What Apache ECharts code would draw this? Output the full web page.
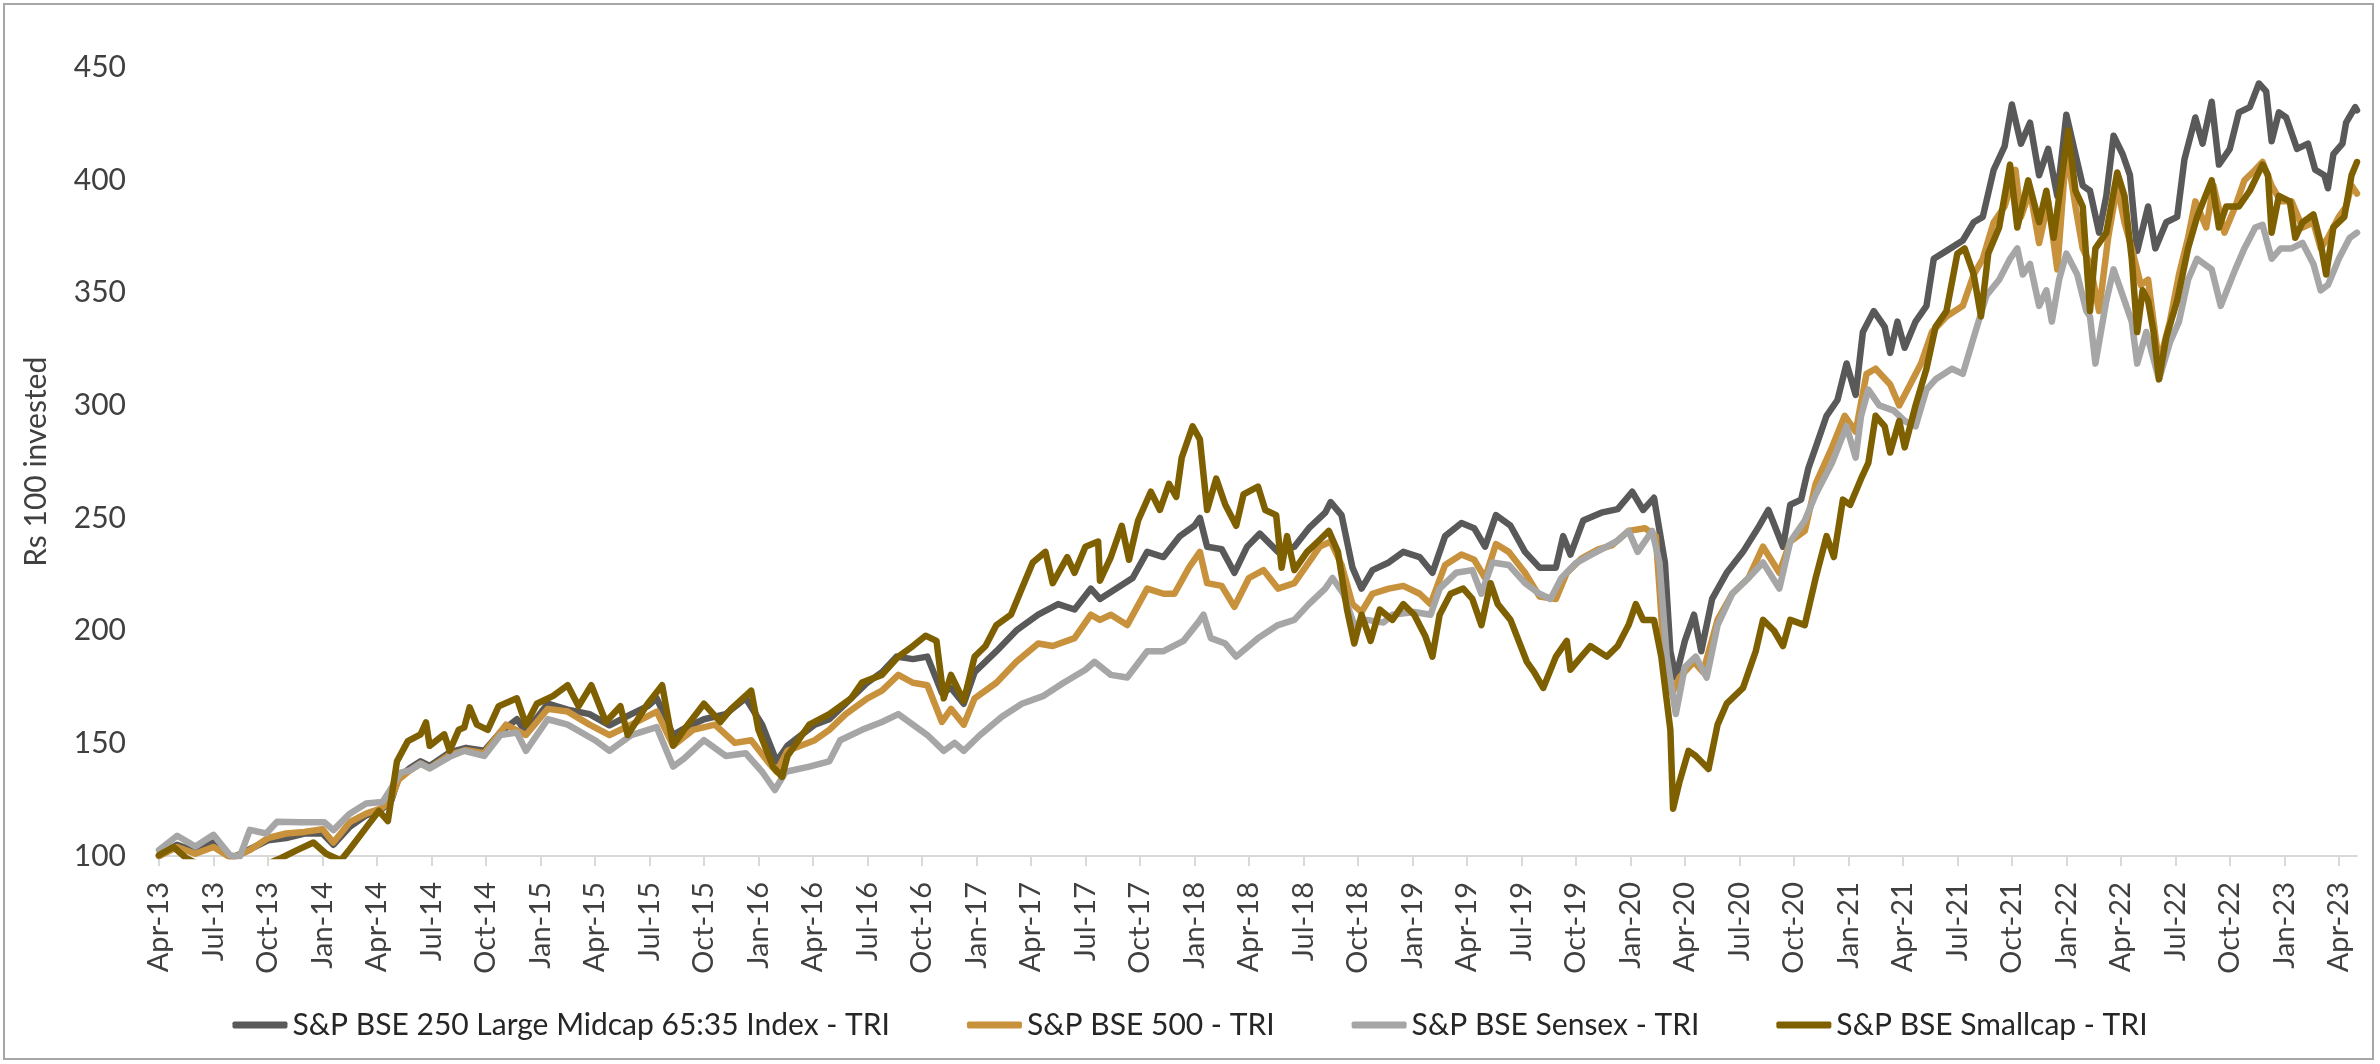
<!DOCTYPE html>
<html>
<head>
<meta charset="utf-8">
<script src="https://cdn.jsdelivr.net/npm/echarts@6/dist/echarts.min.js"></script>
<style>
html,body{margin:0;padding:0;background:#fff;}
#chart{width:2380px;height:1064px;}
</style>
</head>
<body>
<div id="chart"></div>
<script>
// x values are months since 1-Apr-2013
const quarterLabels = ['Apr-13','Jul-13','Oct-13','Jan-14','Apr-14','Jul-14','Oct-14','Jan-15','Apr-15','Jul-15','Oct-15','Jan-16','Apr-16','Jul-16','Oct-16','Jan-17','Apr-17','Jul-17','Oct-17','Jan-18','Apr-18','Jul-18','Oct-18','Jan-19','Apr-19','Jul-19','Oct-19','Jan-20','Apr-20','Jul-20','Oct-20','Jan-21','Apr-21','Jul-21','Oct-21','Jan-22','Apr-22','Jul-22','Oct-22','Jan-23','Apr-23'];
const yTicks = [100,150,200,250,300,350,400,450];
const seriesNames = ['S&P BSE 250 Large Midcap 65:35 Index - TRI','S&P BSE 500 - TRI','S&P BSE Sensex - TRI','S&P BSE Smallcap - TRI'];

const lmMonths = [0,1,2,3,4,5,6,7,8,9,9.6,10.5,11.4,12.3,12.8,13.2,13.8,14.4,14.9,16,16.9,17.9,18.8,19.7,20.2,21.4,22.5,23.7,24.8,26,26.9,27.4,28.3,29,30,31.2,32.3,33.2,34,34.6,36.1,36.9,37.8,39,39.8,40.6,41.5,42.3,43.1,43.6,44.3,44.9,46.1,47.2,48.4,49.5,50.4,51.3,51.8,52.7,53.6,54.4,55.3,56.2,57,57.3,57.7,58.5,59.2,59.9,60.6,61.6,62.5,63.3,64.2,64.5,65.1,65.7,66.2,66.8,67.7,68.5,69.4,70.1,70.8,71.7,72.4,73,73.6,74.4,75.2,76,76.9,77.3,77.7,78.4,79.4,80.3,81.1,81.7,82.3,82.9,83.2,83.5,84,84.5,84.9,85.5,86.3,87.2,88.1,88.6,89.4,89.8,90.4,90.8,91.2,91.8,92.4,92.9,93.4,93.8,94.4,95,95.3,95.7,96.1,96.7,97.3,97.7,98.4,99.3,99.9,100.4,101,101.6,102,102.5,103,103.5,104,104.5,105,105.5,105.9,106.3,106.8,107.2,107.6,108.1,108.5,108.9,109.5,109.9,110.5,111.1,111.5,112.1,112.5,113,113.4,114,114.5,115.1,115.6,116,116.3,116.7,117.1,117.7,118.3,118.7,119.2,119.4,119.7,120.2,120.4,120.9,121];
const lmValues = [100,105,102,106,99,103,107,108,110,110,105,113,118,121,125,135,139,142,140,146,148,146.7,155,160.7,155,167.6,165,163,158,163,166.5,170,153.7,157,160.7,163,170,158.3,142,149,158.3,160.7,167.6,177,181.6,188.5,187.4,188.5,172.3,174.6,167.6,181.6,190.9,200.1,207.1,211.8,209.4,218.7,214.1,218.7,223.4,235,232.7,242,246.6,250.1,237.3,236.2,225.7,237.3,243.1,235,237.3,245.5,252.4,257.1,251.3,228,218.7,226.9,230.3,235,232.7,225.7,242,247.8,245.5,237.3,251.3,246.6,235,228,228,242,233.8,248.9,252.4,254,261.7,253.6,259,230.3,190.9,179.2,195.5,207.1,190.9,214.1,225.7,235,246.6,253.6,237.3,255.9,258.2,272.2,281.4,295.4,302.4,318.6,304.7,332.6,341.9,334.9,323.3,337.2,325.6,337.2,344.2,365.1,368.6,373.2,381.3,383.7,404.6,415,433.6,416.2,425.5,402.2,413.9,393,429,411.5,397.6,395.3,376.7,393,419.7,411.5,402.2,368.6,388.3,369.7,381.3,383.7,409.2,427.8,416.2,434.8,406.9,413.9,430.1,432.4,442.9,439.4,417.3,430.1,427.8,413.9,416.2,404.6,402.2,396.4,411.5,416.2,425.5,432.4,431];

const b5Months = [0,1,2,3,4,5,6,7,8,9,9.6,10.5,11.4,12.2,12.7,13.2,13.8,14.4,14.9,16,16.9,17.9,19.1,20.2,21.4,22.5,23.7,24.8,26,27.4,28.3,29.4,30.6,31.7,32.6,33.5,34,34.6,36.1,36.9,37.8,39,39.8,40.7,41.5,42.3,43.1,43.6,44.3,44.9,46.1,47.2,48.4,49.2,50.4,51.3,51.8,52.4,53.3,54.4,55.3,55.9,56.7,57.3,57.7,58.5,59.2,60,60.8,61.6,62.5,63.3,63.9,64.5,65.1,65.7,66.2,66.8,67.7,68.5,69.4,70,70.8,71.7,72.4,73,73.6,74.3,75.2,76,76.9,77.5,78.3,79.2,80,80.9,81.8,82.4,82.8,83.3,83.7,84.5,85,85.8,86.6,87.5,88.3,89.2,89.8,90.6,91.2,92.1,92.8,93.4,94,94.5,95.3,95.8,96.4,97,97.6,98.4,99.3,99.9,100.4,101,101.6,102.2,102.5,103,103.5,104,104.5,105,105.5,105.9,106.3,106.8,107.3,107.8,108.2,108.6,109.1,109.5,110.1,110.7,111.2,111.7,112.1,112.7,113.1,113.7,114.3,114.8,115.4,115.8,116.3,116.8,117.4,118,118.6,119,119.4,120,120.4,120.7,121];
const b5Values = [100,104,101,104,99,102.6,108,110,110.7,111.9,106,115,118.8,121,124,134,138,141,139,145,147,145.6,158.3,153.7,165.3,164.1,158.3,153.7,158.3,164.1,149,156,158.3,150.2,151.4,142,137.4,146.7,151.4,156,163,170,173.4,180.4,176.9,175.8,159.5,165.3,158.3,170,176.9,186.2,194.3,193.2,196.7,207.1,204.8,207.1,202.5,218.7,216.4,216.4,228,235,221.1,219.9,210.6,223.4,226.9,218.7,221.1,230.3,237.3,239.6,229.2,211.8,208.3,216.4,218.7,219.9,216.4,211.8,229.2,233.8,231.5,223.4,238.5,235,225.7,215.2,214.1,225.7,232,236,238,244.3,245.5,242,195.5,172.3,179.2,186.2,181.6,204.8,216.4,223.4,237.3,225.7,239.6,244.3,265.2,281.4,295.4,288.4,314,316.3,309.3,300,309.3,318.6,332.6,339.5,344.2,358.1,365.1,381.3,388.3,404.6,383.7,395.3,372.1,390.6,360.4,413.9,388.3,369.7,362.8,341.9,374.4,397.6,381.3,369.7,353.5,355.8,318.6,337.2,358.1,374.4,390.6,379,397.6,376.7,388.3,399.9,404.6,408.1,397.6,390.6,390.6,379,381.3,369.7,374.4,383.7,388.3,397.6,394];

const sxMonths = [0,1,2,3,3.9,4.45,5,5.9,6.5,7.8,9.1,9.6,10.5,11.4,12.3,12.7,13.3,13.8,14.4,14.9,16,16.8,17.9,18.8,19.7,20.2,21.4,22.5,24,24.8,26,27.4,28.3,28.9,30,31.2,32.3,33.2,33.9,34.5,35.8,36.9,37.5,38.7,39.8,40.7,41.5,42.3,43.2,43.8,44.3,45.2,46.4,47.5,48.7,49.8,51,51.5,52.4,53.3,54.4,55.3,56.4,57.2,57.5,57.9,58.7,59.3,60.5,61.6,62.5,63.3,64.2,64.6,65.2,65.8,66.5,67.4,67.9,69.1,70,70.5,71.4,72.3,72.8,73.4,74.3,75.2,76,76.6,77.2,78,78.9,79.7,80.3,80.9,81.4,82.2,82.6,83,83.5,84,84.6,85.2,85.8,86.6,87.5,88.3,89.2,89.8,90.6,91.2,92.1,92.9,93.4,93.7,94.1,94.7,95.5,96.1,96.7,97.3,97.8,98.7,99.3,99.9,100.6,101.3,101.9,102.3,102.6,103,103.5,103.9,104.2,104.6,105,105.6,106.1,106.3,106.6,107.2,107.6,108.2,108.6,108.9,109.4,110.1,110.7,111.2,111.7,112.2,113,113.5,114.3,114.8,115.4,115.8,116.3,116.8,117.4,118,118.6,119,119.4,120,120.6,121];
const sxValues = [102.6,109,104.2,109.4,100.4,99.7,111.6,110,115.2,115,115,111.5,118.8,123.3,124,129,137,138,141,138.9,144,146.7,144.4,153.7,154.8,146.7,160.7,158.3,151.4,146.7,153.7,157.2,139.7,143.2,151.4,144.4,145.6,137.4,129.3,137.4,139.7,142,151.4,156,159.5,163,158.3,153.7,146.7,150.2,146.7,153.7,161.8,167.6,171.1,176.9,182.7,186.2,180.4,179.2,190.9,190.9,195.5,203.6,207.1,196.7,194.3,188.5,196.7,202.5,204.8,211.8,218.7,223.4,216.4,202.5,204.8,203.6,207.1,208.3,207.1,218.7,225.7,226.9,216.4,230.3,229.2,221.1,216.4,214.1,223.4,230,234,237.3,240,244.3,235,244.3,230.3,188.5,163,183.9,188.5,179.2,202.5,216.4,223.4,230.3,218.7,239.6,248.9,260.5,274.5,290.7,276.8,295.4,307,300,297.7,293.1,290.7,307,311.6,316.3,314,330.2,348.8,355.8,365.1,369.7,358.1,362.8,344.2,351.1,337.2,355.8,367.4,358.1,341.9,339.5,318.6,346.5,360.4,346.5,337.2,318.6,332.6,311.6,327.9,337.2,355.8,365.1,360.4,344.2,360.4,369.7,379,380.2,365.1,369.7,369.7,372.1,362.8,351.1,353.5,365.1,374.4,376.7];

const scMonths = [0,0.8,1.5,2.5,4,5.5,6.7,7.6,8.5,9.2,10,10.5,11.4,12.1,12.6,13.1,13.7,14.4,14.7,14.9,15.7,16,16.5,16.8,17.1,17.5,18.1,18.7,19.7,20.2,20.8,21.7,22.5,23.1,23.8,24.6,25.4,25.8,26.9,27.7,28.3,28.9,30,30.9,31.5,32.6,33,33.8,34.3,34.6,35.8,36.9,38.1,38.7,39.8,40.7,41.5,42.2,42.8,43.2,43.6,44.3,44.9,45.5,46.1,46.9,47.5,48.1,48.8,49.2,50,50.4,51,51.7,51.8,52.4,53,53.4,53.9,54.6,55.1,55.6,56,56.3,56.9,57.3,57.7,58.2,58.7,59.3,59.7,60.5,60.9,61.5,61.8,62.1,62.5,63.2,63.8,64.4,64.9,65.4,65.8,66.2,66.7,67.2,67.9,68.5,69.1,69.7,70.1,70.5,71.1,71.8,72.3,72.8,73.3,73.7,74.4,75.3,75.7,76.2,76.9,77.5,77.7,78.3,78.8,79.7,80.3,80.9,81.3,81.7,82.3,82.7,83.2,83.35,83.7,84.2,84.6,85.3,85.8,86.3,87.2,87.9,88.3,88.9,89.4,89.8,90.6,91.2,91.8,92.2,92.7,93.1,93.7,94.1,94.5,95,95.3,95.8,96.1,96.7,97.3,97.8,98.4,99,99.4,99.9,100.3,100.7,101.3,101.9,102.3,102.9,103.5,103.9,104.3,104.8,105.1,105.5,105.9,106.3,106.6,107.2,107.8,108.2,108.6,108.9,109.2,109.5,109.8,110.1,110.5,111.1,111.7,112.2,113,113.4,113.8,114.5,115.1,115.8,116.1,116.3,116.7,117.3,117.6,118,118.6,119,119.3,119.7,120.3,120.7,121];
const scValues = [100.4,104,99,95,93,95,99,102.6,106,101,98,103,112.6,120,115.5,142,151,154,159.3,148.9,154,146.7,156,157,166,158.3,156,166.5,170,158.3,167.6,171.1,175.8,166.5,175.8,159.5,166.5,153.7,167.6,175.8,149,156,167.6,159.5,165.3,173.4,156,139.7,135.1,144.4,158.3,163,170,177,180.4,188.5,193.2,197.8,195.5,170,180.4,168.8,188.5,193.2,202.5,207.1,218.7,230.3,235,221.1,232.7,225.7,237.3,239.6,222.2,232.7,246.6,231.5,248.9,261.7,253.6,265.2,259.4,276.8,290.7,284.9,253.6,267.5,255.9,246.6,260.5,264,253.6,251.3,228,242,226.9,235,239.6,244.3,235,209.4,194.3,207.1,195.5,209.4,204.8,211.8,207.1,197.8,188.5,207.1,216.4,218.7,214.1,202.5,221.1,211.8,204.8,186.2,181.6,174.6,188.5,195.5,182.7,188.5,193.2,188.5,193.2,202.5,211.8,204.8,204.8,188.5,156,121,132.8,146.7,144.4,138.6,158.3,167.6,174.6,190.9,204.8,200.1,193.2,204.8,202.5,223.4,242,232.7,258.2,255.9,267.5,274.5,295.4,290.7,279.1,293.1,281.4,300,316.3,334.9,341.9,367.4,369.7,358.1,339.5,367.4,379,406.9,379,399.9,381.3,395.3,374.4,404.6,422,395.3,388.3,341.9,369.7,376.7,403.4,393,365.1,332.6,351.1,346.5,332.6,311.6,330.2,346.5,369.7,383.7,399.9,379,388.3,388.3,395.3,406.9,402.2,376.7,393,390.6,374.4,381.3,384.8,372.1,358.1,379,383.7,402.2,408];

const colors = ['#595959','#C8913C','#A6A6A6','#7F6000'];
const FONT = 'Lato, "Open Sans", sans-serif';

function pairs(xs, ys){ return xs.map((x,i)=>[x, ys[i]]); }
const seriesData = [pairs(lmMonths,lmValues), pairs(b5Months,b5Values), pairs(sxMonths,sxValues), pairs(scMonths,scValues)];
const tickVals = quarterLabels.map((_,i)=>i*3);

const chart = echarts.init(document.getElementById('chart'), null, {renderer:'canvas'});
chart.setOption({
  animation:false,
  backgroundColor:'#ffffff',
  color: colors,
  graphic:[{type:'rect', shape:{x:4,y:4,width:2369,height:1055}, style:{fill:'none', stroke:'#A6A6A6', lineWidth:2}, silent:true}],
  grid:{left:159, right:23, top:67.5, bottom:208, containLabel:false},
  legend:{
    data: seriesNames, left:'center', top:1005,
    icon:'roundRect', itemWidth:55, itemHeight:7, itemGap:77,
    textStyle:{fontFamily:FONT, fontSize:30, color:'#262626'}
  },
  xAxis:{
    type:'value', min:0, max:121, interval:3,
    splitLine:{show:false},
    axisLine:{show:true, lineStyle:{color:'#D9D9D9', width:2}},
    axisTick:{show:true, length:10, lineStyle:{color:'#D9D9D9', width:2}, customValues: tickVals},
    axisLabel:{rotate:90, margin:26, fontFamily:FONT, fontSize:29, color:'#404040',
      customValues: tickVals,
      formatter: v => quarterLabels[Math.round(v/3)] || ''}
  },
  yAxis:{
    type:'value', min:yTicks[0], max:yTicks[yTicks.length-1], interval:50,
    name:'Rs 100 invested', nameLocation:'middle', nameGap:108,
    nameTextStyle:{fontFamily:FONT, fontSize:30, color:'#404040'},
    splitLine:{show:false}, axisLine:{show:false}, axisTick:{show:false},
    axisLabel:{margin:33, fontFamily:FONT, fontSize:30, color:'#404040'}
  },
  series: seriesNames.map((n,i)=>({
    name:n, type:'line', data:seriesData[i], showSymbol:false, symbol:'none',
    clip:true, lineStyle:{width:6.5, color:colors[i], join:'round', cap:'round'},
    itemStyle:{color:colors[i]}, z:2+i
  }))
});
</script>
</body>
</html>
